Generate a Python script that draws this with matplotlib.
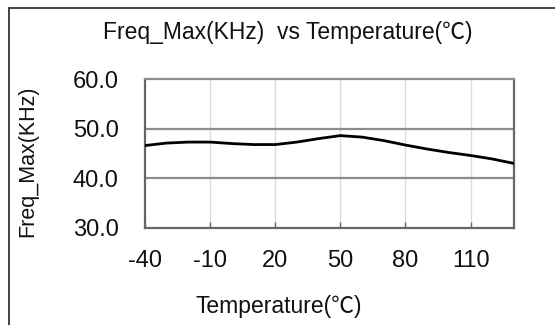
import matplotlib
matplotlib.use('Agg')
import matplotlib.pyplot as plt
import matplotlib.patches as patches

## data
temps = [-40, -30, -20, -10, 0, 10, 20, 30, 40, 50, 60, 70, 80, 90, 100, 110, 120, 130]
freq_max = [46.6, 47.1, 47.3, 47.3, 47.0, 46.8, 46.8, 47.3, 48.0, 48.6, 48.3, 47.6, 46.7, 45.9, 45.2, 44.6, 43.9, 43.0]
x_ticks = [-40, -10, 20, 50, 80, 110]
y_ticks = [30.0, 40.0, 50.0, 60.0]

plt.rcParams['font.family'] = ['Liberation Sans', 'Noto Sans CJK SC', 'DejaVu Sans']
plt.rcParams['axes.unicode_minus'] = False

fig = plt.figure(figsize=(5.55, 3.25), dpi=100)
fig.patch.set_facecolor('white')

## outer chart frame (cut off at right / bottom)
frame = patches.Rectangle((9 / 555, -0.1), 1.2, 1 - 7.5 / 325 + 0.1,
                          transform=fig.transFigure, fill=False,
                          edgecolor='#333333', linewidth=1.3)
fig.patches.append(frame)

ax = fig.add_axes([145 / 555, 1 - 228 / 325, 369 / 555, 149 / 325])
ax.plot(temps, freq_max, color='black', linewidth=2.0, solid_capstyle='round', zorder=3)

ax.set_xlim(-40, 130)
ax.set_ylim(30, 60)
ax.set_xticks(x_ticks)
ax.set_yticks(y_ticks)
ax.set_yticklabels(['%.1f' % v for v in y_ticks])

## grid lines
for x in x_ticks[1:]:
    ax.axvline(x, color='#dcdcdc', linewidth=1.0, zorder=1)
for y in [40, 50]:
    ax.axhline(y, color='#8c8c8c', linewidth=1.6, zorder=1)

for s in ax.spines.values():
    s.set_color('#666666')
    s.set_linewidth(1.6)
ax.spines['top'].set_color('#8c8c8c')

ax.tick_params(axis='x', direction='in', length=4, width=1, color='#666666',
               labelsize=17, pad=16, labelcolor='#111111')
ax.tick_params(axis='y', length=0, labelsize=17, pad=19, labelcolor='#111111')

fig.text(288 / 555, 1 - 33 / 325, 'Freq_Max(KHz)  vs Temperature(℃)', ha='center', va='center',
         fontsize=16.5, color='#111111')
fig.text(279 / 555, 1 - 307 / 325, 'Temperature(℃)', ha='center', va='center',
         fontsize=16.5, color='#111111')
fig.text(28 / 555, 1 - 161 / 325, 'Freq_Max(KHz)', ha='center', va='center', rotation=90,
         fontsize=15.5, color='#111111')

fig.savefig('out.png', dpi=100)
